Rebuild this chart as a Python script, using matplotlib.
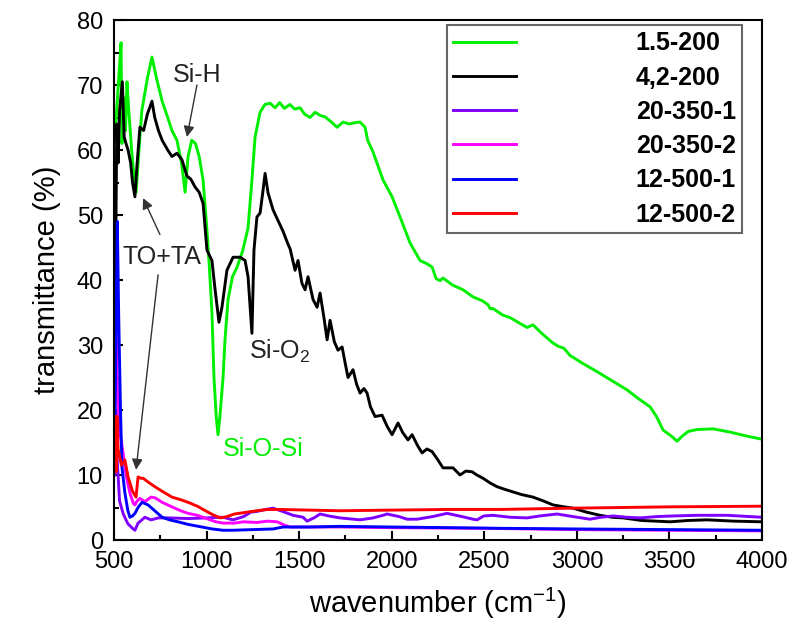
import matplotlib
matplotlib.use("Agg")
import matplotlib.pyplot as plt
from matplotlib.ticker import MultipleLocator

plt.rcParams['font.family'] = ['Liberation Sans', 'DejaVu Sans']
plt.rcParams['mathtext.fontset'] = 'custom'
plt.rcParams['mathtext.rm'] = 'Liberation Sans'

# spectra read as (wavenumber, transmittance) pairs
green_wn = [505, 530, 538, 543, 555, 562, 570, 580, 595, 608, 619, 630, 650, 680, 705, 730, 760, 790,
            813, 840, 865, 884, 900, 920, 940, 960, 981, 1002, 1015, 1029, 1040, 1052, 1062, 1072, 1089,
            1100, 1116, 1140, 1165, 1195, 1224, 1245, 1262, 1289, 1315, 1343, 1370, 1395, 1420, 1450,
            1475, 1505, 1530, 1559, 1586, 1615, 1640, 1670, 1705, 1737, 1770, 1800, 1829, 1856, 1870,
            1899, 1953, 2002, 2045, 2099, 2153, 2190, 2218, 2240, 2261, 2277, 2330, 2385, 2439, 2490,
            2520, 2531, 2547, 2600, 2640, 2700, 2731, 2763, 2810, 2871, 2900, 2930, 2963, 3030, 3109,
            3190, 3271, 3330, 3395, 3430, 3466, 3510, 3541, 3570, 3601, 3650, 3736, 3828, 3900, 4000]
green_t = [62, 73, 76.5, 61, 68, 63, 70.5, 66, 60, 56, 53.5, 58, 66, 71, 74.3, 71, 67.5, 65,
           63, 61.5, 58, 53.5, 59, 61.5, 61, 59, 55.4, 47.7, 42, 35, 25, 19, 16.2, 19, 25,
           31, 37, 40.5, 42, 44.5, 48, 55.4, 62, 65.8, 67, 67.2, 66.5, 67.3, 66.4, 67,
           66.3, 66.5, 65.5, 65, 65.8, 65.3, 65.1, 64.4, 63.5, 64.3, 64, 64.2, 64.3, 63.5, 61.5,
           59.7, 55.4, 52.8, 49.7, 45.7, 43, 42.5, 42, 40.2, 39.9, 40.3, 39.2, 38.5, 37.4, 36.8,
           36.2, 35.6, 35.6, 34.6, 34.2, 33.2, 32.7, 33.1, 31.8, 30.3, 29.8, 29.5, 28.4, 27.2, 25.9,
           24.5, 23.1, 21.8, 20.5, 19, 16.9, 16, 15.2, 16, 16.7, 17, 17.1, 16.6, 16.1, 15.5]

black_wn = [502, 508, 515, 522, 530, 545, 555, 565, 576, 590, 600, 613, 625, 640, 660, 680, 705, 720,
            740, 760, 790, 813, 840, 867, 894, 915, 938, 960, 981, 1002, 1029, 1046, 1067, 1083, 1110,
            1143, 1181, 1208, 1224, 1245, 1256, 1272, 1289, 1305, 1316, 1332, 1359, 1380, 1413, 1440,
            1451, 1478, 1494, 1515, 1532, 1548, 1575, 1597, 1613, 1635, 1651, 1667, 1690, 1710, 1732,
            1750, 1764, 1791, 1810, 1829, 1850, 1867, 1885, 1910, 1948, 1975, 2002, 2034, 2060, 2088,
            2110, 2140, 2164, 2190, 2218, 2245, 2277, 2331, 2369, 2400, 2434, 2460, 2493, 2530, 2569,
            2610, 2655, 2700, 2763, 2820, 2871, 2930, 2980, 3050, 3125, 3190, 3250, 3350, 3504, 3600,
            3703, 3850, 4000]
black_t = [14, 40, 64, 58, 66, 70.5, 62, 61, 60, 58, 55, 52.8, 58, 63.5, 63, 65.5, 67.5, 65,
           63, 61.5, 60, 59, 59.5, 58.5, 56, 55.5, 54.3, 53.5, 51.8, 44.6, 43, 38.5, 33.5, 35.8, 41.5,
           43.5, 43.5, 43, 40.5, 31.8, 44.6, 49.7, 50.3, 53.8, 56.4, 53.4, 50.8, 49.5, 47.5, 45.5,
           44.8, 41.5, 43, 39.5, 38.5, 40.5, 37, 35.8, 38, 34, 30.8, 33.8, 30.5, 29.2, 29.7,
           27, 25, 26.2, 24, 22.6, 23.3, 22.6, 20.5, 19, 19.2, 17.5, 16.2, 18, 16.5, 15.4,
           16.2, 14.5, 13.4, 14, 13.6, 12.5, 11.1, 11.1, 10, 10.6, 10.5, 10, 9.5, 8.8, 8.2,
           7.8, 7.4, 7.0, 6.6, 6.0, 5.4, 5.1, 4.9, 4.3, 3.8, 3.5, 3.4, 3.0, 2.8, 3.0,
           3.1, 2.9, 2.8]

purple_wn = [503, 510, 518, 530, 550, 575, 600, 613, 630, 667, 700, 740, 800, 900, 1000, 1089, 1143,
             1200, 1240, 1272, 1320, 1359, 1410, 1467, 1521, 1543, 1580, 1613, 1660, 1721, 1829, 1900,
             1953, 1975, 2040, 2083, 2137, 2220, 2299, 2315, 2380, 2439, 2461, 2497, 2547, 2640, 2731,
             2800, 2893, 2980, 3071, 3130, 3196, 3270, 3342, 3430, 3520, 3650, 3811, 4000]
purple_t = [10, 20, 12, 6, 4, 2.5, 1.8, 1.5, 2.6, 3.5, 3.1, 3.4, 3.4, 3.3, 3.4, 3.5, 3.1,
            3.6, 4.3, 4.4, 4.7, 4.9, 4.4, 3.8, 3.5, 2.9, 3.4, 4.0, 3.7, 3.4, 3.1, 3.4,
            3.8, 4.0, 3.6, 3.2, 3.2, 3.6, 4.1, 4.0, 3.6, 3.2, 3.1, 3.7, 3.8, 3.5, 3.4,
            3.7, 4.0, 3.6, 3.2, 3.5, 3.7, 3.5, 3.4, 3.6, 3.7, 3.8, 3.8, 3.5]

magenta_wn = [503, 508, 515, 520, 535, 549, 565, 586, 605, 613, 625, 640, 667, 700, 721, 760, 813,
              860, 900, 950, 1000, 1050, 1089, 1150, 1200, 1272, 1330, 1381, 1420, 1451, 1550, 1721,
              2000, 2500, 3000, 3500, 4000]
magenta_t = [30, 36.5, 28, 21.5, 16, 13.4, 10, 7.2, 5.6, 5.4, 6.0, 6.4, 5.9, 6.6, 6.5, 5.8, 5.1,
             4.5, 4.1, 3.8, 3.3, 2.8, 2.6, 2.6, 2.8, 2.7, 2.9, 2.8, 2.3, 2.0, 2.0, 2.0,
             1.9, 1.8, 1.6, 1.5, 1.4]

blue_wn = [503, 510, 518, 525, 535, 543, 559, 575, 586, 600, 613, 630, 651, 684, 720, 760, 800, 846,
           900, 975, 1030, 1089, 1143, 1250, 1359, 1413, 1550, 1721, 2000, 2300, 2585, 3000, 3500, 4000]
blue_t = [12, 30, 49, 35, 20, 11.2, 7.2, 4.5, 3.5, 3.7, 4.1, 5.0, 5.8, 5.4, 4.5, 3.5, 3.1, 2.8,
          2.4, 2.0, 1.7, 1.5, 1.5, 1.6, 1.7, 2.0, 2.0, 2.1, 2.0, 1.9, 1.8, 1.7, 1.6, 1.5]

red_wn = [503, 508, 512, 516, 522, 540, 559, 576, 600, 619, 630, 645, 657, 690, 721, 760, 813, 860,
          900, 950, 1000, 1040, 1075, 1110, 1150, 1200, 1270, 1330, 1400, 1550, 1721, 2000, 2300,
          2585, 2980, 3500, 4000]
red_t = [16, 19, 10.5, 19, 14, 11.5, 12.3, 9.7, 7.5, 6.6, 9.7, 9.5, 9.5, 8.8, 8.2, 7.5, 6.6, 6.2,
         5.8, 5.2, 4.4, 3.8, 3.4, 3.6, 4.0, 4.2, 4.5, 4.7, 4.7, 4.6, 4.5, 4.6, 4.7,
         4.7, 4.9, 5.1, 5.2]

series = [
    ("1.5-200", green_wn, green_t, "#00ee00"),
    ("4,2-200", black_wn, black_t, "black"),
    ("20-350-1", purple_wn, purple_t, "#8000ff"),
    ("20-350-2", magenta_wn, magenta_t, "#ff00ff"),
    ("12-500-1", blue_wn, blue_t, "#0000ff"),
    ("12-500-2", red_wn, red_t, "#ff0000"),
]

fig = plt.figure(figsize=(7.95, 6.35), dpi=100)
ax = fig.add_axes([0.1434, 0.1496, 0.8151, 0.8189])

for label, wn, t, color in series:
    ax.plot(wn, t, color=color, lw=2.1, label=label)

ax.set_xlim(500, 4000)
ax.set_ylim(0, 80)
ax.xaxis.set_major_locator(MultipleLocator(500))
ax.xaxis.set_minor_locator(MultipleLocator(250))
ax.yaxis.set_major_locator(MultipleLocator(10))
ax.yaxis.set_minor_locator(MultipleLocator(5))
ax.tick_params(which='both', direction='in', width=1.5, labelsize=17, pad=8)
ax.tick_params(which='major', length=6.5)
ax.tick_params(which='minor', length=3.5)
for sp in ax.spines.values():
    sp.set_linewidth(1.5)

ax.set_xlabel('wavenumber (cm$^{-1}$)', fontsize=21, labelpad=9)
ax.set_ylabel('transmittance (%)', fontsize=21, labelpad=11)

# band assignments
arrow = dict(arrowstyle='-|>', color='#333333', lw=1.0, mutation_scale=16, shrinkA=0, shrinkB=0)
ax.text(948, 71.5, 'Si-H', fontsize=18, ha='center', va='center', color='#222222')
ax.annotate('', xy=(894, 62), xytext=(948, 70), arrowprops=arrow)
ax.text(759, 43.5, 'TO+TA', fontsize=18, ha='center', va='center', color='#222222')
ax.annotate('', xy=(657, 52.6), xytext=(748, 47), arrowprops=arrow)
ax.annotate('', xy=(619, 10.8), xytext=(738, 40.8), arrowprops=arrow)
ax.text(1229, 29, 'Si-O$_2$', fontsize=18, ha='left', va='center', color='#222222')
ax.text(1089, 14, 'Si-O-Si', fontsize=18, ha='left', va='center', color='#00ee00')

leg = ax.legend(loc='upper left', bbox_to_anchor=(0.514, 0.99), prop={'weight': 'bold', 'size': 18},
                handlelength=2.5, handletextpad=4.8, labelspacing=0.41, borderpad=0.25,
                borderaxespad=0, fancybox=False, framealpha=1)
leg.get_frame().set_edgecolor('#666666')
leg.get_frame().set_linewidth(1.5)

fig.savefig('out.png', dpi=100)
